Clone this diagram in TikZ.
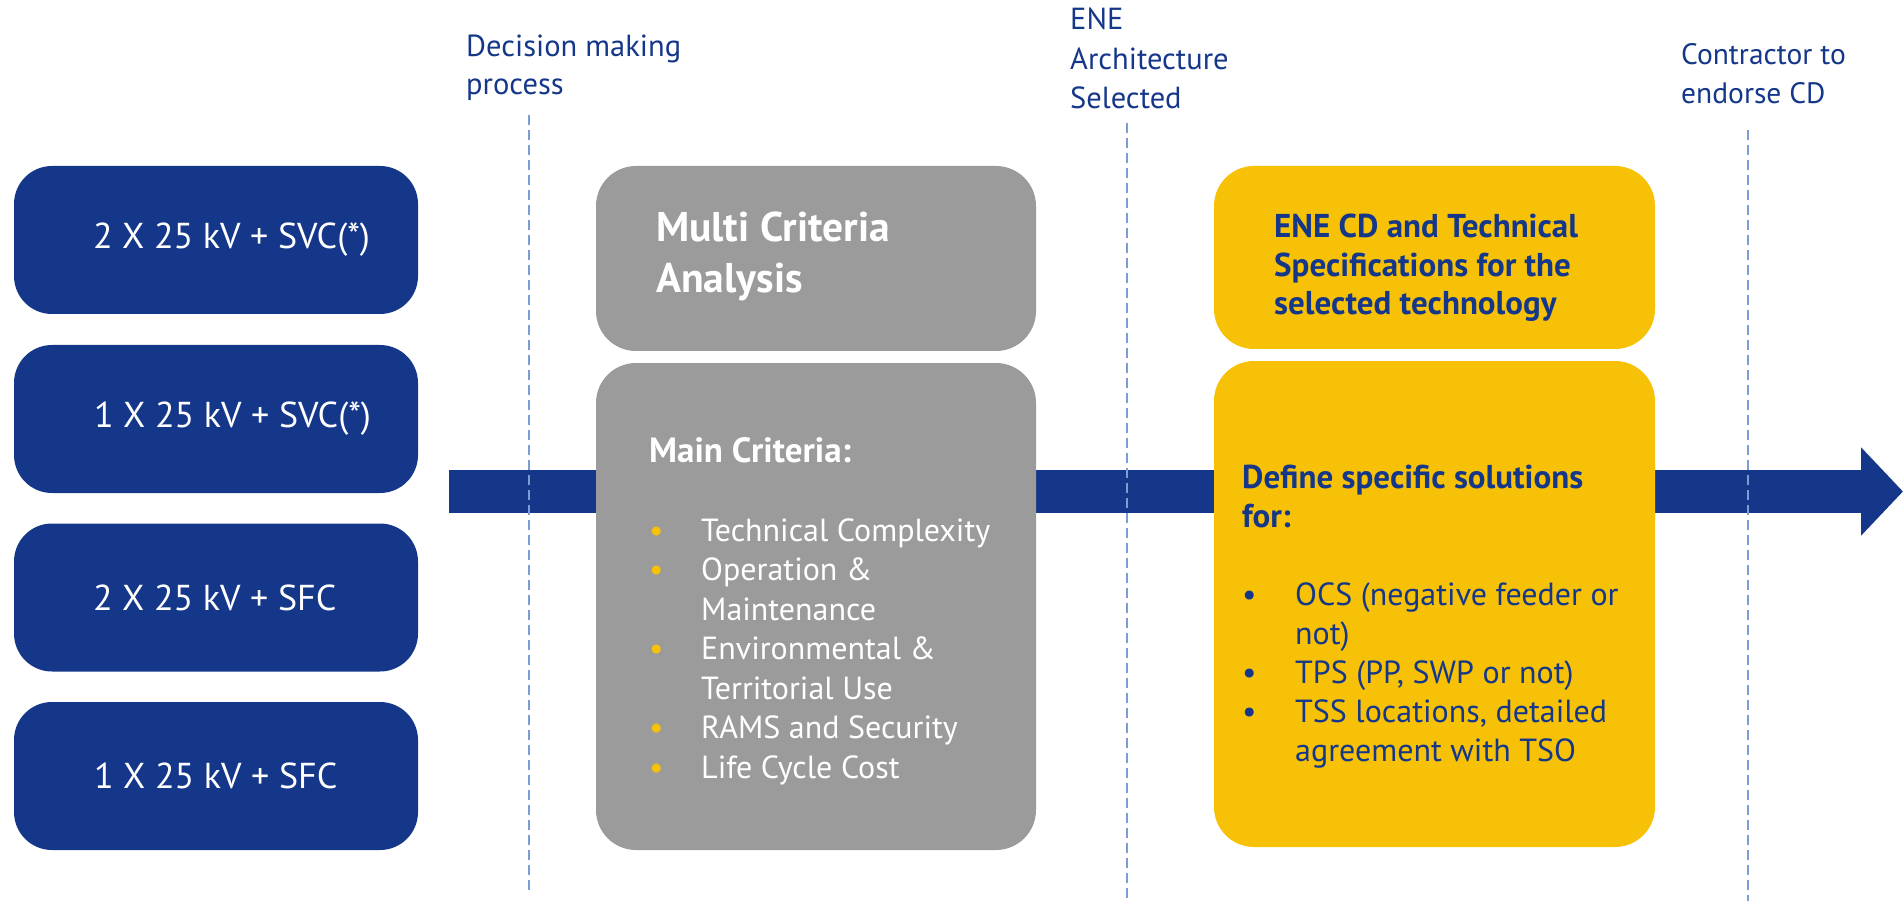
\documentclass[tikz,border=0pt]{standalone}
\usepackage{fontspec}
\setmainfont{PT Sans}
\usetikzlibrary{arrows.meta}

\definecolor{eneblue}{HTML}{15378A}
\definecolor{enegray}{HTML}{9B9B9B}
\definecolor{eneyellow}{HTML}{F6C106}
\definecolor{guideblue}{HTML}{7D9BD5}

% bullets for the two lists
\newcommand{\gbul}{\makebox[52pt][l]{\textcolor{eneyellow}{\textbullet}}}
\newcommand{\gind}{\hspace*{52pt}}
\newcommand{\bbul}{\makebox[53pt][l]{\textbullet}}
\newcommand{\bind}{\hspace*{53pt}}

\begin{document}
\begin{tikzpicture}[x=1pt,y=-1pt,
  optbox/.style={fill=eneblue, rounded corners=38pt, minimum width=404pt, minimum height=148pt, inner sep=0pt},
  mcabox/.style={fill=enegray, rounded corners=40pt, minimum width=440pt, inner sep=0pt},
  cdbox/.style={fill=eneyellow, rounded corners=40pt, minimum width=441pt, inner sep=0pt},
  optlabel/.style={text=white, anchor=west, inner sep=0pt, font=\fontsize{36}{40}\selectfont},
  milestone/.style={text=eneblue, align=left, anchor=base west, inner sep=0pt, font=\fontsize{29.5}{39}\selectfont},
  boxtext/.style={align=left, anchor=base west, inner sep=0pt},
  guide/.style={guideblue, line width=1.3pt, dash pattern=on 10pt off 5pt},
]
\useasboundingbox (0,0) rectangle (1904,901);

% main flow arrow
\coordinate (flowstart) at (449,491.5);
\coordinate (flowend) at (1903,491.5);
\draw[eneblue, line width=43pt, -{Triangle[length=42pt,width=86pt]}] (flowstart) -- (flowend);

% milestones (text anchored on its last line)
\coordinate (g1top) at (529,115);
\coordinate (g1bot) at (529,890);
\coordinate (g2top) at (1127,123);
\coordinate (g2bot) at (1127,901);
\coordinate (g3top) at (1748,130);
\coordinate (g3bot) at (1748,901);
\draw[guide] (g1top) -- (g1bot);
\draw[guide] (g2top) -- (g2bot);
\draw[guide] (g3top) -- (g3bot);

\node[milestone, font=\fontsize{30.5}{38}\selectfont] (ms1) at (466,95) {Decision making\\process};
\node[milestone, font=\fontsize{30.5}{39.5}\selectfont] (ms2) at (1070,109) {ENE\\Architecture\\Selected};
\node[milestone] (ms3) at (1681,104) {Contractor to\\endorse CD};

% options
\node[optbox] (opt1) at (216,240) {};
\node[optbox] (opt2) at (216,419) {};
\node[optbox] (opt3) at (216,597.5) {};
\node[optbox] (opt4) at (216,776) {};
\node[optlabel] (lab1) at ([xshift=79pt]opt1.west) {2 X 25 kV + SVC(*)};
\node[optlabel] (lab2) at ([xshift=80pt]opt2.west) {1 X 25 kV + SVC(*)};
\node[optlabel] (lab3) at ([xshift=79pt]opt3.west) {2 X 25 kV + SFC};
\node[optlabel] (lab4) at ([xshift=80pt]opt4.west) {1 X 25 kV + SFC};

% multi criteria analysis
\node[mcabox, minimum height=185pt] (mca) at (816,258.5) {};
\node[mcabox, minimum height=487pt] (crit) at (816,606.5) {};
\node[boxtext, text=white, font=\fontsize{41.5}{51}\bfseries\selectfont] (mcatext) at (656,293) {Multi Criteria\\Analysis};
\node[boxtext, text=white, font=\fontsize{32}{39.5}\selectfont] (crittext) at (649,778)
  {\textbf{\fontsize{35}{39.5}\selectfont Main Criteria:}\\[39.5pt]
   \gbul Technical Complexity\\
   \gbul Operation \&\\
   \gind Maintenance\\
   \gbul Environmental \&\\
   \gind Territorial Use\\
   \gbul RAMS and Security\\
   \gbul Life Cycle Cost};

% concept design
\node[cdbox, minimum height=183pt] (cd) at (1434.5,257.5) {};
\node[cdbox, minimum height=486pt] (sol) at (1434.5,604) {};
\node[boxtext, text=eneblue, font=\fontsize{33}{38.5}\bfseries\selectfont] (cdtext) at (1274,315)
  {ENE CD and Technical\\Specifications for the\\selected technology};
\node[boxtext, text=eneblue, font=\fontsize{32}{39}\selectfont] (soltext) at (1242,761)
  {\textbf{\fontsize{33}{39}\selectfont Define specific solutions}\\
   \textbf{\fontsize{33}{39}\selectfont for:}\\[39pt]
   \bbul OCS (negative feeder or\\
   \bind not)\\
   \bbul TPS (PP, SWP or not)\\
   \bbul TSS locations, detailed\\
   \bind agreement with TSO};
\end{tikzpicture}
\end{document}
